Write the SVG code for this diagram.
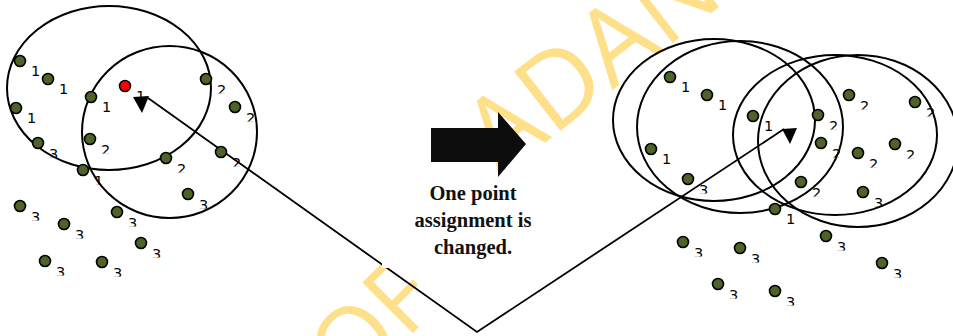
<svg xmlns="http://www.w3.org/2000/svg" width="953" height="336" viewBox="0 0 953 336">
<defs>
<style>
.cl{fill:none;stroke:#000;stroke-width:2}
.pt{fill:#4F6228;stroke:#000;stroke-width:1.6}
.red{fill:#FF0000;stroke:#000;stroke-width:1.6}
.lb{font-family:"DejaVu Sans","Liberation Sans",sans-serif;font-size:14.5px;fill:#000}
.cut{clip-path:url(#cut)}
.wm{font-family:"Open Sans","Liberation Sans",sans-serif;font-size:100px;fill:#FFE08A}
.cap{font-family:"Liberation Serif","Times New Roman",serif;font-size:20.5px;font-weight:bold;fill:#111;text-anchor:middle}
.ln{fill:none;stroke:#000;stroke-width:1.8}
</style>
<clipPath id="cut" clipPathUnits="objectBoundingBox"><rect x="-0.2" y="0" width="1.4" height="0.72"/></clipPath>
</defs>
<rect width="953" height="336" fill="#fff"/>
<g id="watermark">
<text class="wm" transform="translate(351,395) rotate(-45)">OF</text>
<text class="wm" transform="translate(500,178) rotate(-38)" style="font-size:105px">ADAN</text>
</g>
<g id="connectors">
<polyline class="ln" points="148,98 477,332 784,129"/>
<polygon points="133,97 149,96 142,113" fill="#000"/>
<polygon points="782,129 797,128 790,144" fill="#000"/>
</g>
<g id="clusters">
<ellipse class="cl" cx="109" cy="88" rx="102" ry="82"/>
<ellipse class="cl" cx="169.5" cy="132" rx="87.5" ry="86"/>
<ellipse class="cl" cx="714" cy="120" rx="101" ry="81"/>
<ellipse class="cl" cx="740" cy="127" rx="103" ry="86"/>
<ellipse class="cl" cx="835" cy="135" rx="102" ry="80"/>
<ellipse class="cl" cx="858" cy="141" rx="100" ry="86"/>
</g>
<g id="left-points">
<g id="L1"><circle class="pt" cx="20" cy="61" r="5.5"/><text class="lb" x="31" y="76">1</text></g>
<g id="L2"><circle class="pt" cx="48" cy="79" r="5.5"/><text class="lb" x="59" y="94">1</text></g>
<g id="L3"><circle class="pt" cx="91" cy="97" r="5.5"/><text class="lb" x="102" y="112">1</text></g>
<g id="L4"><circle class="red" cx="125" cy="86" r="5.5"/><text class="lb" x="136" y="101">1</text></g>
<g id="L5"><circle class="pt" cx="16" cy="108" r="5.5"/><text class="lb" x="27" y="123">1</text></g>
<g id="L6"><circle class="pt" cx="38" cy="143" r="5.5"/><text class="lb cut" x="49" y="159">3</text></g>
<g id="L7"><circle class="pt" cx="90" cy="139" r="5.5"/><text class="lb cut" x="101" y="155">2</text></g>
<g id="L8"><circle class="pt" cx="83" cy="170" r="5.5"/><text class="lb cut" x="94" y="186">1</text></g>
<g id="L9"><circle class="pt" cx="206" cy="79" r="5.5"/><text class="lb cut" x="217" y="95">2</text></g>
<g id="L10"><circle class="pt" cx="235" cy="107" r="5.5"/><text class="lb cut" x="246" y="123">2</text></g>
<g id="L11"><circle class="pt" cx="166" cy="158" r="5.5"/><text class="lb cut" x="177" y="174">2</text></g>
<g id="L12"><circle class="pt" cx="221" cy="152" r="5.5"/><text class="lb cut" x="232" y="168">2</text></g>
<g id="L13"><circle class="pt" cx="188" cy="194" r="5.5"/><text class="lb cut" x="199" y="210">3</text></g>
<g id="L14"><circle class="pt" cx="20" cy="206" r="5.5"/><text class="lb cut" x="31" y="222">3</text></g>
<g id="L15"><circle class="pt" cx="64" cy="224" r="5.5"/><text class="lb cut" x="75" y="240">3</text></g>
<g id="L16"><circle class="pt" cx="117" cy="212" r="5.5"/><text class="lb cut" x="128" y="228">3</text></g>
<g id="L17"><circle class="pt" cx="141" cy="243" r="5.5"/><text class="lb cut" x="152" y="259">3</text></g>
<g id="L18"><circle class="pt" cx="45" cy="261" r="5.5"/><text class="lb cut" x="56" y="277">3</text></g>
<g id="L19"><circle class="pt" cx="102" cy="262" r="5.5"/><text class="lb cut" x="113" y="278">3</text></g>
</g>
<g id="right-points">
<g id="R1"><circle class="pt" cx="670" cy="77" r="5.5"/><text class="lb" x="681" y="92">1</text></g>
<g id="R2"><circle class="pt" cx="707" cy="95" r="5.5"/><text class="lb" x="718" y="110">1</text></g>
<g id="R3"><circle class="pt" cx="753" cy="116" r="5.5"/><text class="lb" x="764" y="131">1</text></g>
<g id="R4"><circle class="pt" cx="651" cy="149" r="5.5"/><text class="lb" x="662" y="164">1</text></g>
<g id="R5"><circle class="pt" cx="688" cy="179" r="5.5"/><text class="lb cut" x="699" y="195">3</text></g>
<g id="R6"><circle class="pt" cx="775" cy="209" r="5.5"/><text class="lb" x="786" y="224">1</text></g>
<g id="R7"><circle class="pt" cx="849" cy="95" r="5.5"/><text class="lb cut" x="860" y="111">2</text></g>
<g id="R8"><circle class="pt" cx="915" cy="102" r="5.5"/><text class="lb cut" x="926" y="118">2</text></g>
<g id="R9"><circle class="pt" cx="818" cy="115" r="5.5"/><text class="lb cut" x="829" y="131">2</text></g>
<g id="R10"><circle class="pt" cx="821" cy="143" r="5.5"/><text class="lb cut" x="832" y="159">2</text></g>
<g id="R11"><circle class="pt" cx="858" cy="153" r="5.5"/><text class="lb cut" x="869" y="169">2</text></g>
<g id="R12"><circle class="pt" cx="895" cy="144" r="5.5"/><text class="lb cut" x="906" y="160">2</text></g>
<g id="R13"><circle class="pt" cx="801" cy="182" r="5.5"/><text class="lb cut" x="812" y="198">2</text></g>
<g id="R14"><circle class="pt" cx="863" cy="192" r="5.5"/><text class="lb cut" x="874" y="208">3</text></g>
<g id="R15"><circle class="pt" cx="826" cy="236" r="5.5"/><text class="lb cut" x="837" y="252">3</text></g>
<g id="R16"><circle class="pt" cx="683" cy="242" r="5.5"/><text class="lb cut" x="694" y="258">3</text></g>
<g id="R17"><circle class="pt" cx="740" cy="248" r="5.5"/><text class="lb cut" x="751" y="264">3</text></g>
<g id="R18"><circle class="pt" cx="882" cy="263" r="5.5"/><text class="lb cut" x="893" y="279">3</text></g>
<g id="R19"><circle class="pt" cx="718" cy="284" r="5.5"/><text class="lb cut" x="729" y="300">3</text></g>
<g id="R20"><circle class="pt" cx="775" cy="291" r="5.5"/><text class="lb cut" x="786" y="307">3</text></g>
</g>
<g id="caption">
<rect x="382" y="170" width="183" height="98" fill="#fff"/>
<polygon points="431,128 498,128 498,112 526,144 498,177 498,162 431,162" fill="#0d0d0d"/>
<text class="cap" x="473" y="200">One point</text>
<text class="cap" x="473" y="227">assignment is</text>
<text class="cap" x="473" y="254">changed.</text>
</g>
</svg>
